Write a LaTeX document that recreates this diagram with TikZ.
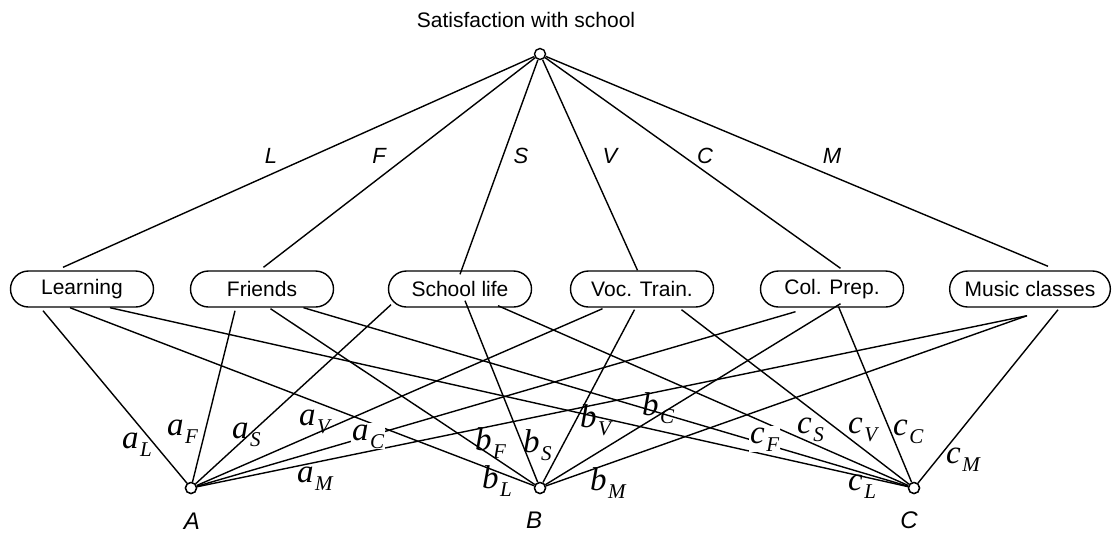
\documentclass[tikz,border=0pt]{standalone}
\usepackage{fontspec}
\setmainfont{Liberation Sans}
\newfontfamily\tms{Liberation Serif}
\newcommand\wt[2]{{\tms\itshape\fontsize{33}{33}\selectfont #1}\kern1.5pt\raisebox{-8pt}{\tms\itshape\fontsize{21}{21}\selectfont #2}}
\begin{document}
\begin{tikzpicture}[x=1pt,y=-1pt,
  edge/.style={line width=1.4pt},
  cat/.style={draw, line width=1.4pt, rounded corners=18pt, minimum width=143pt, minimum height=36pt, inner xsep=15pt, font=\fontsize{21}{21}\selectfont},
  dot/.style={circle, draw, line width=1.4pt, fill=white, minimum size=11pt, inner sep=0pt},
  wl/.style={font=\fontsize{22}{22}\selectfont\itshape, anchor=base, inner sep=0pt},
  vl/.style={font=\fontsize{24}{24}\selectfont\itshape, anchor=base, inner sep=0pt},
  ml/.style={anchor=base west, inner sep=0pt},
  mlw/.style={anchor=base west, inner sep=1pt, fill=white}
]
\useasboundingbox (0,0) rectangle (1118,533);
% top
\node[font=\fontsize{21}{21}\selectfont, anchor=base] (title) at (526,27) {Satisfaction with school};
\node[dot] (top) at (540,54) {};
% categories
\node[cat] (learn) at (82,289) {Learning};
\node[cat] (friends) at (262,289) {Friends};
\node[cat] (school) at (460,289) {School life};
\node[cat] (voc) at (642,289) {Voc. Train.};
\node[cat] (col) at (832,289) {Col. Prep.};
\node[cat] (music) at (1030,289) {Music classes};
% top edges
\draw[edge] (top) -- ([xshift=-19pt,yshift=3pt]learn.north);
\draw[edge] (top) -- ([xshift=1.5pt,yshift=3pt]friends.north);
\draw[edge] (top) -- ([yshift=-4pt]school.north);
\draw[edge] (top) -- ([xshift=-4.5pt]voc.north);
\draw[edge] (top) -- ([xshift=8.5pt,yshift=2pt]col.north);
\draw[edge] (top) -- ([xshift=18pt,yshift=4pt]music.north);
\node[wl] (lL) at (271,163) {L};
\node[wl] (lF) at (379,163) {F};
\node[wl] (lS) at (521,163) {S};
\node[wl] (lV) at (610,163) {V};
\node[wl] (lC) at (705,163) {C};
\node[wl] (lM) at (832,163) {M};
% bottom nodes
\node[dot] (A) at (191,488) {};
\node[dot] (B) at (540,488) {};
\node[dot] (C) at (914,488) {};
\node[vl] (lA) at (192,529) {A};
\node[vl] (lB) at (534,528) {B};
\node[vl] (lC2) at (909,528) {C};
% bottom edges
\draw[edge] ([xshift=-39pt,yshift=-3pt]learn.south) -- (A);
\draw[edge] ([xshift=-12pt]learn.south) -- (B);
\draw[edge] ([xshift=28pt]learn.south) -- (C);
\draw[edge] ([xshift=-27pt,yshift=-3pt]friends.south) -- (A);
\draw[edge] ([xshift=8.5pt,yshift=-1pt]friends.south) -- (B);
\draw[edge] ([xshift=41.5pt]friends.south) -- (C);
\draw[edge] ([xshift=-69pt,yshift=3pt]school.south) -- (A);
\draw[edge] ([xshift=5pt,yshift=7pt]school.south) -- (B);
\draw[edge] ([xshift=38pt,yshift=2pt]school.south) -- (C);
\draw[edge] ([xshift=-39.5pt,yshift=-1pt]voc.south) -- (A);
\draw[edge] ([xshift=-7.5pt,yshift=-2pt]voc.south) -- (B);
\draw[edge] ([xshift=39.5pt,yshift=-2pt]voc.south) -- (C);
\draw[edge] ([xshift=-36.5pt,yshift=-4pt]col.south) -- (A);
\draw[edge] ([xshift=8.5pt,yshift=4pt]col.south) -- (B);
\draw[edge] ([xshift=6.5pt,yshift=1pt]col.south) -- (C);
\draw[edge] ([xshift=-3pt,yshift=-8pt]music.south) -- (A);
\draw[edge] ([xshift=-3pt,yshift=-8pt]music.south) -- (B);
\draw[edge] ([xshift=28pt,yshift=-2pt]music.south) -- (C);
% redraw dots on top
\node[dot] at (A) {};
\node[dot] at (B) {};
\node[dot] at (C) {};
% weight labels
\node[ml] (aL) at (122,448) {\wt{a}{L}};
\node[mlw, inner ysep=3pt] (aF) at (166,435) {\wt{a}{F}\hspace{7pt}};
\node[ml] (aS) at (232,438) {\wt{a}{S}};
\node[ml] (aV) at (299,425) {\wt{a}{V}};
\node[mlw] (aC) at (351,440) {\wt{a}{C}};
\node[ml] (aM) at (297,482) {\wt{a}{M}};
\node[ml] (bF) at (475,450) {\wt{b}{F}};
\node[ml] (bS) at (523,452) {\wt{b}{S}};
\node[ml] (bV) at (580,427) {\wt{b}{V}};
\node[ml] (bC) at (642,415) {\wt{b}{C}};
\node[ml] (bL) at (482,488) {\wt{b}{L}};
\node[ml] (bM) at (590,490) {\wt{b}{M}};
\node[mlw] (cF) at (749,443) {\wt{c}{F}};
\node[ml] (cS) at (797,433) {\wt{c}{S}};
\node[ml] (cV) at (848,433) {\wt{c}{V}};
\node[ml] (cC) at (893,435) {\wt{c}{C}};
\node[ml] (cM) at (946,463) {\wt{c}{M}};
\node[ml] (cL) at (848,490) {\wt{c}{L}};
\end{tikzpicture}
\end{document}
